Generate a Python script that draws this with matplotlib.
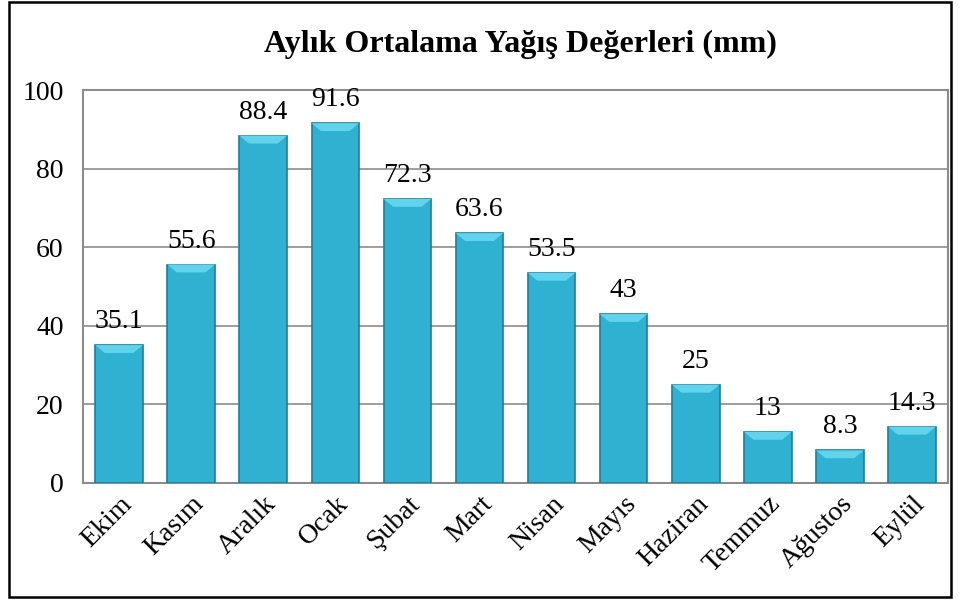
import matplotlib.pyplot as plt
from matplotlib.patches import Rectangle, Polygon

months = ["Ekim", "Kasım", "Aralık", "Ocak", "Şubat", "Mart",
          "Nisan", "Mayıs", "Haziran", "Temmuz", "Ağustos", "Eylül"]
rain = [35.1, 55.6, 88.4, 91.6, 72.3, 63.6, 53.5, 43, 25, 13, 8.3, 14.3]
labels = ["35.1", "55.6", "88.4", "91.6", "72.3", "63.6",
          "53.5", "43", "25", "13", "8.3", "14.3"]

plt.rcParams['font.family'] = ['Liberation Serif', 'DejaVu Serif']

fig = plt.figure(figsize=(9.6, 6.05), dpi=100)
ax = fig.add_axes([0.0865, 0.2017, 0.901, 0.6493])

x = range(len(months))
bars = ax.bar(x, rain, width=0.66, color="#2fb2d2", edgecolor="#1d7e98",
              linewidth=1.2, zorder=3)
for b, t in zip(bars, labels):
    x0 = b.get_x()
    x1 = x0 + b.get_width()
    h = b.get_height()
    # light bevel on top of each bar
    d = b.get_width() * 0.2
    cap = Polygon([(x0, h), (x1, h), (x1 - d, h - 2.0), (x0 + d, h - 2.0)],
                  closed=True, facecolor="#62d3ec", edgecolor="none", zorder=4)
    ax.add_patch(cap)
    ax.text(x0 + b.get_width() / 2, h + 2.8, t,
            ha="center", va="bottom", fontsize=20)

ax.set_xlim(-0.5, len(months) - 0.5)
ax.set_ylim(0, 100)
ax.set_yticks(range(0, 101, 20))
ax.yaxis.grid(True, color="#8c8c8c", linewidth=1.2, zorder=0)
ax.tick_params(axis="y", length=0, labelsize=20, pad=14)
ax.tick_params(axis="x", length=0, labelsize=20, pad=6)
ax.set_xticks(list(x))
ax.set_xticklabels(months, rotation=45, ha="right", rotation_mode="anchor")
for s in ax.spines.values():
    s.set_color("#8c8c8c")
    s.set_linewidth(1.5)

fig.text(0.542, 0.927, "Aylık Ortalama Yağış Değerleri (mm)", ha="center",
         va="center", fontsize=23, fontweight="bold")

fig.patches.append(Rectangle((0.009, 0.013), 0.982, 0.983, transform=fig.transFigure,
                             fill=False, edgecolor="black", linewidth=1.8))

fig.savefig("out.png", dpi=100)
